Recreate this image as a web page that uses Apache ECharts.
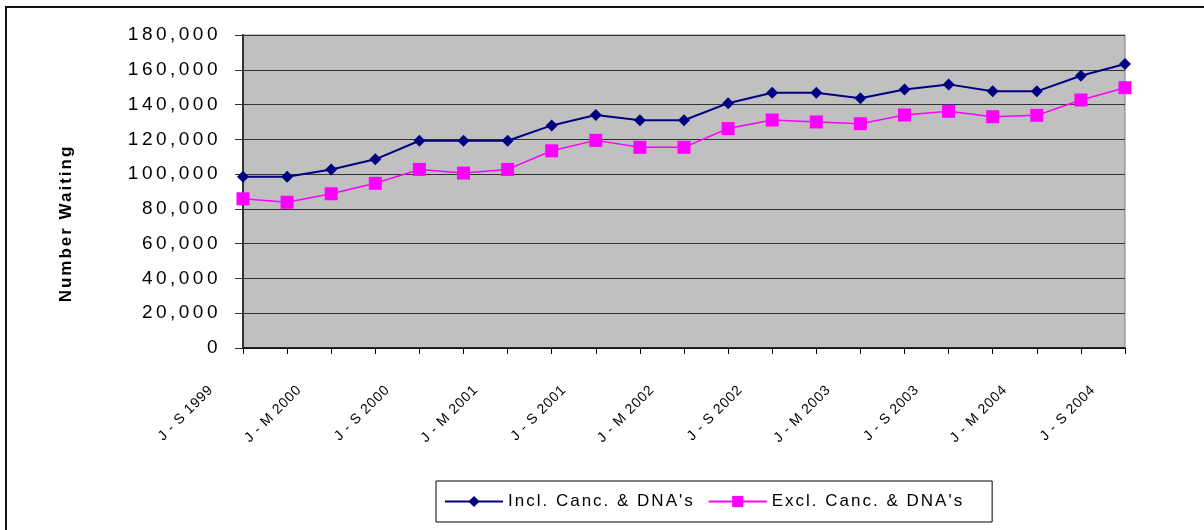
<!DOCTYPE html>
<html>
<head>
<meta charset="utf-8">
<script src="https://cdn.jsdelivr.net/npm/echarts@6/dist/echarts.min.js"></script>
<style>
  html, body { margin: 0; padding: 0; background: #fff; }
  #chart { width: 1204px; height: 530px; }
</style>
</head>
<body>
<div id="chart"></div>
<script>
// ---- Data ----
const categories = [
  "J - S 1999", "O - D 1999", "J - M 2000", "A - J 2000", "J - S 2000", "O - D 2000",
  "J - M 2001", "A - J 2001", "J - S 2001", "O - D 2001", "J - M 2002", "A - J 2002",
  "J - S 2002", "O - D 2002", "J - M 2003", "A - J 2003", "J - S 2003", "O - D 2003",
  "J - M 2004", "A - J 2004", "J - S 2004"
];
const inclCancDNA = [
  98500, 98500, 102700, 108500, 119200, 119200, 119200, 128000, 134000, 131000, 131000,
  140800, 146800, 146800, 143600, 148700, 151600, 147600, 147600, 156600, 163300
];
const exclCancDNA = [
  85800, 83800, 88700, 94700, 102700, 100600, 102700, 113400, 119400, 115400, 115400,
  126200, 131100, 130000, 129000, 134000, 136100, 133000, 133800, 142600, 149700
];
const seriesNames = ["Incl. Canc. & DNA's", "Excl. Canc. & DNA's"];
const yAxisTitle = "Number Waiting";

// ---- Letter spacing (Excel-like spaced text) by font size ----
const spacingBySize = { "19": "3.5px", "17": "2px", "14": "0.8px" };
const origFillText = CanvasRenderingContext2D.prototype.fillText;
CanvasRenderingContext2D.prototype.fillText = function (t, x, y, w) {
  const m = /(\d+)px/.exec(this.font || "");
  this.letterSpacing = (m && spacingBySize[m[1]]) || "0px";
  return w === undefined ? origFillText.call(this, t, x, y) : origFillText.call(this, t, x, y, w);
};

const FONT = "'Liberation Sans', Arial, sans-serif";
const chart = echarts.init(document.getElementById('chart'), null, { renderer: 'canvas' });

chart.setOption({
  animation: false,
  backgroundColor: '#ffffff',
  textStyle: { fontFamily: FONT },
  graphic: [{
    type: 'rect', z: -10, silent: true,
    shape: { x: 6, y: 7, width: 1400, height: 700 },
    style: { fill: 'none', stroke: '#111', lineWidth: 2 }
  }],
  grid: {
    left: 243, top: 35, right: 79, bottom: 182,
    show: true, backgroundColor: '#c0c0c0', borderColor: '#808080', borderWidth: 1
  },
  legend: {
    left: 436, top: 481,
    itemWidth: 58, itemHeight: 14, itemGap: 51,
    borderColor: '#000', borderWidth: 1,
    padding: [12, 66, 12, 8],
    textStyle: { fontSize: 17, color: '#000', fontFamily: FONT }
  },
  xAxis: {
    type: 'category',
    data: categories,
    boundaryGap: false,
    axisLine: { lineStyle: { color: '#000', width: 1.5 } },
    axisTick: { interval: 0, length: 6, lineStyle: { color: '#000' } },
    axisLabel: {
      interval: 1, rotate: 45, fontSize: 14, color: '#000', fontFamily: FONT,
      margin: 8, padding: [0, 45, 0, 0]
    },
    splitLine: { show: false }
  },
  yAxis: {
    type: 'value',
    min: 0, max: 180000, interval: 20000,
    name: yAxisTitle,
    nameLocation: 'middle',
    nameRotate: 90,
    nameGap: 168,
    nameTextStyle: { fontSize: 17, fontWeight: 'bold', color: '#000', fontFamily: FONT, padding: [0, 64, 0, 0] },
    axisLine: { show: true, lineStyle: { color: '#333', width: 2 } },
    axisTick: { show: true, length: 8, lineStyle: { color: '#333' } },
    axisLabel: {
      fontSize: 19, color: '#000', fontFamily: FONT, margin: 22,
      formatter: v => v.toLocaleString('en-US')
    },
    splitLine: { show: true, lineStyle: { color: '#333', width: 1 } }
  },
  series: [
    {
      name: seriesNames[0], type: 'line', data: inclCancDNA,
      symbol: 'diamond', symbolSize: 12,
      itemStyle: { color: '#000080' },
      lineStyle: { color: '#000080', width: 2 }
    },
    {
      name: seriesNames[1], type: 'line', data: exclCancDNA,
      symbol: 'rect', symbolSize: 13,
      itemStyle: { color: '#ff00ff' },
      lineStyle: { color: '#ff00ff', width: 1.5 }
    }
  ]
});
</script>
</body>
</html>
